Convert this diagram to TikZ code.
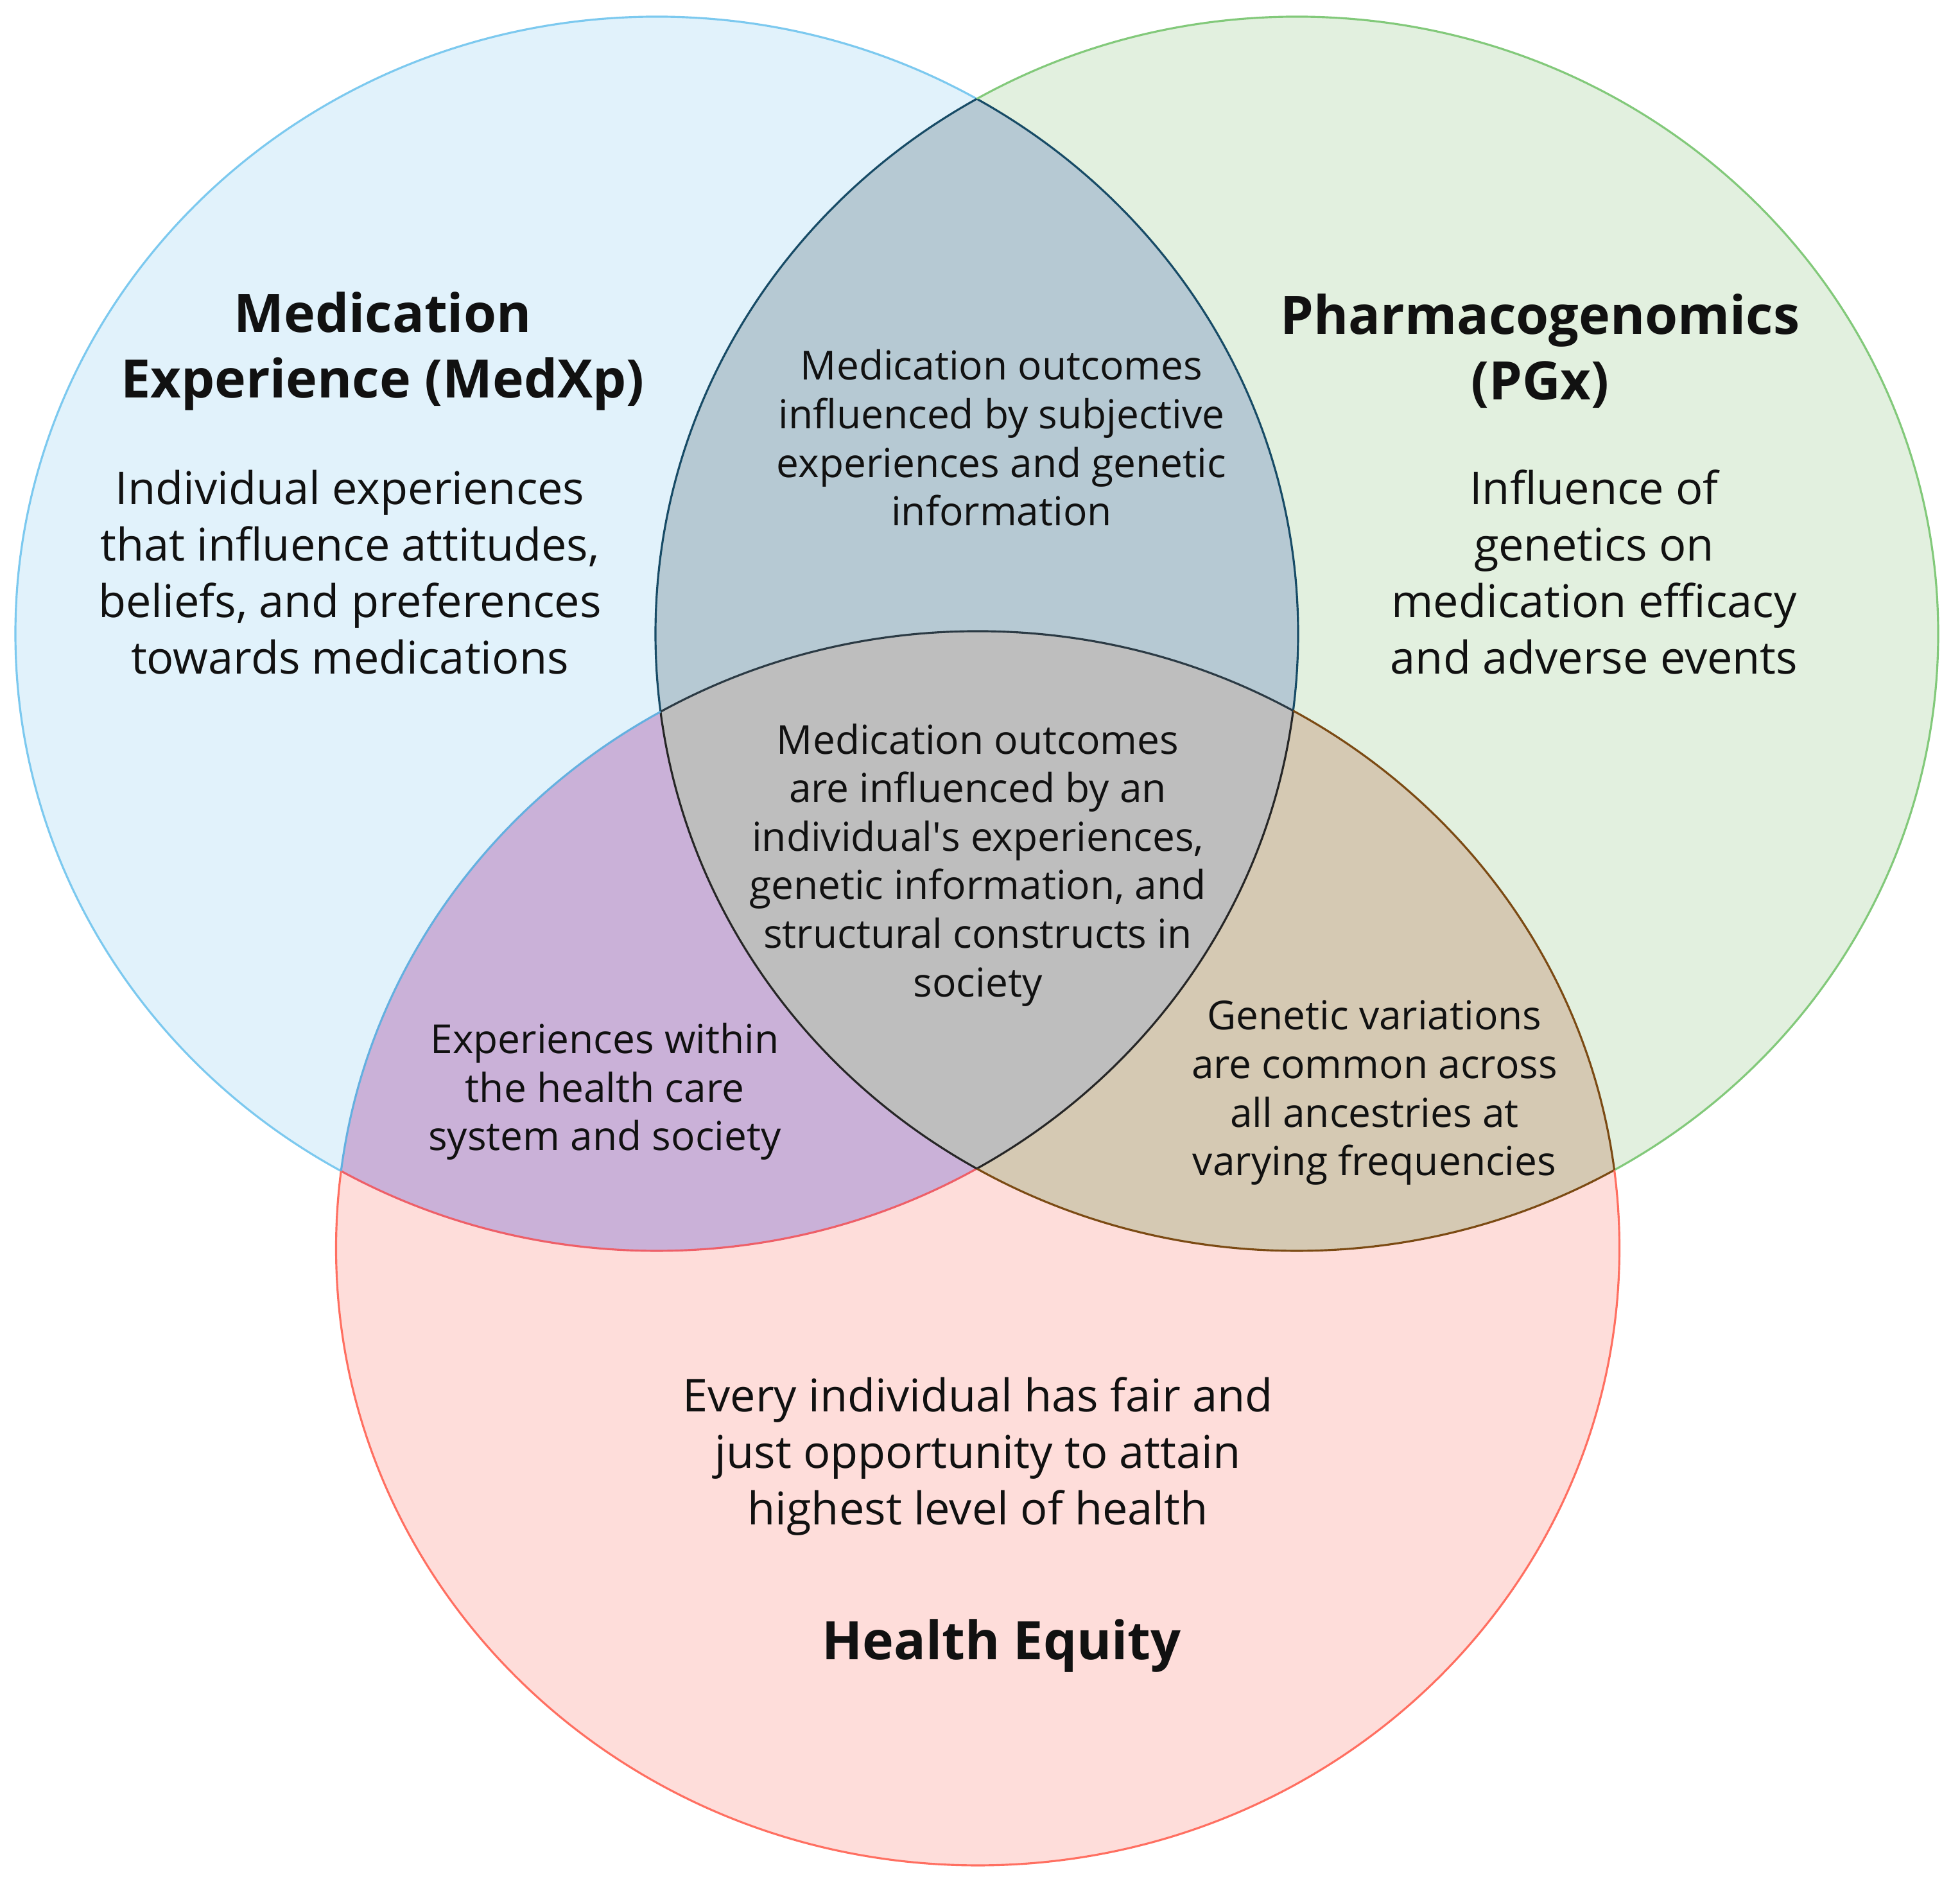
\documentclass[tikz,border=0pt]{standalone}
\usepackage{fontspec}
\setmainfont{Open Sans}
\newfontfamily\plainapos{Open Sans}
\definecolor{fillL}{HTML}{E1F2FB}
\definecolor{fillR}{HTML}{E2F0DF}
\definecolor{fillB}{HTML}{FEDDDA}
\definecolor{fillLR}{HTML}{B6C9D3}
\definecolor{fillLB}{HTML}{CAB1D8}
\definecolor{fillRB}{HTML}{D5C9B3}
\definecolor{fillC}{HTML}{BEBEBE}
\definecolor{colL}{HTML}{7CC9EF}
\definecolor{colR}{HTML}{82C97A}
\definecolor{colB}{HTML}{FF6F61}
\definecolor{colTeal}{HTML}{174B66}
\definecolor{colBrown}{HTML}{7B4A13}
\definecolor{colRedL}{HTML}{EE5F68}
\definecolor{colBlueB}{HTML}{64B0E0}
\definecolor{colDark}{HTML}{262626}
\definecolor{colDarkTop}{HTML}{2B3A44}
\definecolor{txt}{HTML}{111111}
\begin{document}
\begin{tikzpicture}[
  pL/.style={insert path={(10.23,19.47) ellipse [x radius=9.99cm, y radius=9.61cm]}},
  pR/.style={insert path={(20.20,19.47) ellipse [x radius=9.99cm, y radius=9.61cm]}},
  pB/.style={insert path={(15.23,9.90) ellipse [x radius=9.995cm, y radius=9.61cm]}},
  pOut/.style={insert path={(-1,-1) -- (-1,31) -- (32,31) -- (32,-1) -- cycle}},
  edgeline/.style={line width=0.9pt},
  ttl/.style={font=\fontsize{23.5}{29}\selectfont\bfseries, align=center, text=txt, inner sep=0pt},
  body/.style={font=\fontsize{20}{25}\selectfont, align=center, text=txt, inner sep=0pt},
  lens/.style={font=\fontsize{17.7}{21.5}\selectfont, align=center, text=txt, inner sep=0pt}
]
\useasboundingbox (0,0) rectangle (30.53,29.34);
\fill[white] (0,0) rectangle (30.53,29.34);
% base fills
\fill[fillL][pL];
\fill[fillR][pR];
\fill[fillB][pB];
% overlap fills
\begin{scope}\clip[pL];\clip[pR];\fill[fillLR] (0,0) rectangle (30.53,29.34);\end{scope}
\begin{scope}\clip[pL];\clip[pB];\fill[fillLB] (0,0) rectangle (30.53,29.34);\end{scope}
\begin{scope}\clip[pR];\clip[pB];\fill[fillRB] (0,0) rectangle (30.53,29.34);\end{scope}
\begin{scope}\clip[pL];\clip[pR];\clip[pB];\fill[fillC] (0,0) rectangle (30.53,29.34);\end{scope}
% strokes of L
\begin{scope}\clip[pOut,pR];\clip[pOut,pB];\draw[edgeline,colL][pL];\end{scope}
\begin{scope}\clip[pR];\clip[pOut,pB];\draw[edgeline,colTeal][pL];\end{scope}
\begin{scope}\clip[pOut,pR];\clip[pB];\draw[edgeline,colRedL][pL];\end{scope}
\begin{scope}\clip[pR];\clip[pB];\draw[edgeline,colDark][pL];\end{scope}
% strokes of R
\begin{scope}\clip[pOut,pL];\clip[pOut,pB];\draw[edgeline,colR][pR];\end{scope}
\begin{scope}\clip[pL];\clip[pOut,pB];\draw[edgeline,colTeal][pR];\end{scope}
\begin{scope}\clip[pOut,pL];\clip[pB];\draw[edgeline,colBrown][pR];\end{scope}
\begin{scope}\clip[pL];\clip[pB];\draw[edgeline,colDark][pR];\end{scope}
% strokes of B
\begin{scope}\clip[pOut,pL];\clip[pOut,pR];\draw[edgeline,colB][pB];\end{scope}
\begin{scope}\clip[pL];\clip[pOut,pR];\draw[edgeline,colBlueB][pB];\end{scope}
\begin{scope}\clip[pOut,pL];\clip[pR];\draw[edgeline,colBrown][pB];\end{scope}
\begin{scope}\clip[pL];\clip[pR];\draw[edgeline,colDarkTop][pB];\end{scope}
% texts
\node[ttl] (tL) at (5.96,23.87) {Medication\\Experience (MedXp)};
\node[body] (bL) at (5.45,20.43) {Individual experiences\\that influence attitudes,\\beliefs, and preferences\\towards medications};
\node[ttl] (tR) at (23.99,23.87) {Pharmacogenomics\\(PGx)};
\node[body] (bR) at (24.83,20.43) {Influence of\\genetics on\\medication efficacy\\and adverse events};
\node[lens] (lLR) at (15.60,22.52) {Medication outcomes\\influenced by subjective\\experiences and genetic\\information};
\node[lens] (lC) at (15.23,15.87) {Medication outcomes\\are influenced by an\\individual{\plainapos '}s experiences,\\genetic information, and\\structural constructs in\\society};
\node[lens] (lLB) at (9.42,12.34) {Experiences within\\the health care\\system and society};
\node[lens] (lRB) at (21.41,12.32) {Genetic variations\\are common across\\all ancestries at\\varying frequencies};
\node[body] (bB) at (15.23,6.66) {Every individual has fair and\\just opportunity to attain\\highest level of health};
\node[ttl] (tB) at (15.60,3.71) {Health Equity};
\end{tikzpicture}
\end{document}
